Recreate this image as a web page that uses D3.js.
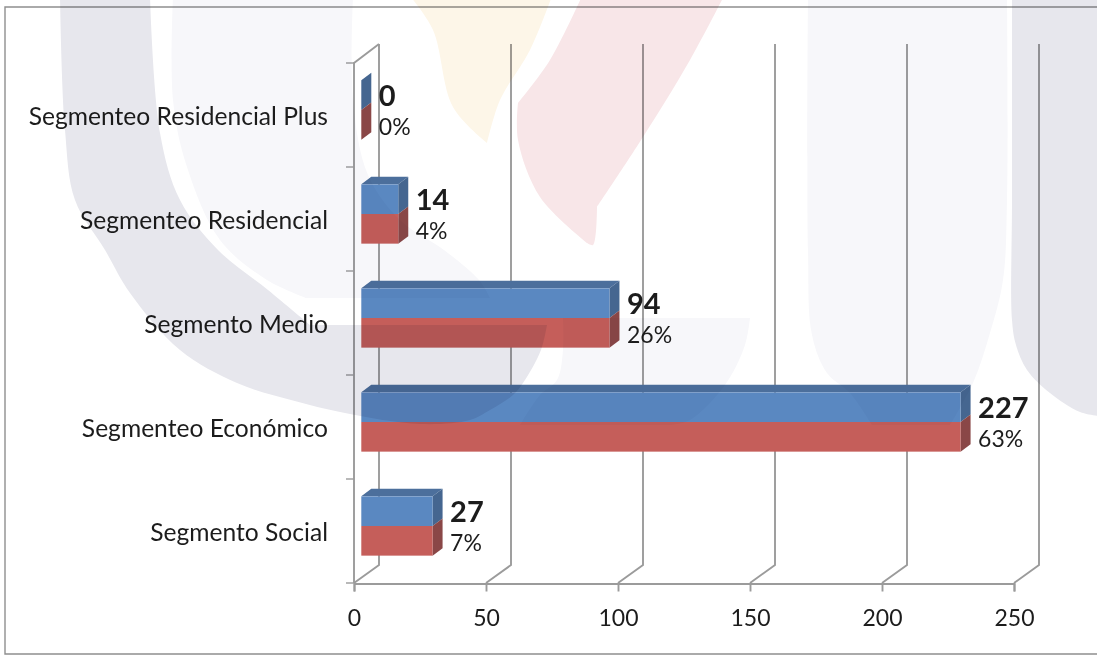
<!DOCTYPE html>
<html>
<head>
<meta charset="utf-8">
<script src="https://cdn.jsdelivr.net/npm/d3@7/dist/d3.min.js"></script>
<style>
  html, body { margin: 0; padding: 0; background: #fff; }
  svg { display: block; }
  text { font-family: Lato, "Open Sans", sans-serif; fill: #1c1c1c; }
</style>
</head>
<body>
<svg id="chart" width="1097" height="655"></svg>
<script>
// Chart data, listed from the bottom row up
const categories = ["Segmento Social", "Segmenteo Económico", "Segmento Medio", "Segmenteo Residencial", "Segmenteo Residencial Plus"];
const counts = [27, 227, 94, 14, 0];
const shares = ["7%", "63%", "26%", "4%", "0%"];
const xTicks = [0, 50, 100, 150, 200, 250];

const svg = d3.select("#chart");
const plot = { left: 354, right: 1014, top: 63, bottom: 583 };
const wall = { dx: 25, dy: -19, backTop: 44 };     // back wall offset of the 3D box
const depth = { dx: 10, dy: -7.5, inset: 7.3 };    // bar extrusion
const colors = {
  blue: "#5a88c1", blueTop: "#4c6f9c", blueSide: "#456690",
  red: "#c55e5a", redSide: "#8a4747", grid: "#9b9b9b", frame: "#8f8f8f"
};

const x = d3.scaleLinear().domain([0, 250]).range([plot.left, plot.right]);
const y = d3.scaleBand().domain(categories).range([plot.bottom, plot.top]);
const barHeight = y.bandwidth() * 0.57;
const line = d3.line();

// Outer frame, open on the right
svg.append("path")
  .attr("d", line([[1100, 7], [5, 7], [5, 654], [1100, 654]]))
  .attr("fill", "none").attr("stroke", colors.frame).attr("stroke-width", 1.4);

// Slanted gridlines and the back wall
const gridG = svg.append("g").attr("fill", "none").attr("stroke", colors.grid).attr("stroke-width", 1.9);
xTicks.forEach(t => {
  gridG.append("path").attr("d", line([
    [x(t), plot.bottom],
    [x(t) + wall.dx, plot.bottom + wall.dy + 1],
    [x(t) + wall.dx, wall.backTop]
  ]));
});
gridG.append("path").attr("d", line([
  [plot.left, plot.bottom], [plot.left, plot.top], [plot.left + wall.dx, wall.backTop]
]));

// Axes
const xAxis = d3.axisBottom(x).tickValues(xTicks).tickSize(8).tickPadding(18).tickFormat(d3.format("d"));
const gx = svg.append("g").attr("transform", `translate(0,${plot.bottom + 0.5})`).call(xAxis);
gx.selectAll("path, line").attr("stroke", colors.grid).attr("stroke-width", 1.9);
gx.selectAll("text").attr("font-size", 23).attr("font-family", "Lato").attr("fill", "#1c1c1c");

const yAxis = d3.axisLeft(y).tickSize(0).tickPadding(26);
const gy = svg.append("g").attr("transform", `translate(${plot.left},0)`).call(yAxis);
gy.select("path").remove();
gy.selectAll("text").attr("font-size", 24.6).attr("font-family", "Lato").attr("fill", "#1c1c1c").attr("dy", 10);

// Category separators on the left wall
svg.append("g").selectAll("line")
  .data(d3.range(categories.length + 1))
  .join("line")
  .attr("x1", plot.left - 8).attr("x2", plot.left)
  .attr("y1", i => plot.bottom - i * y.bandwidth())
  .attr("y2", i => plot.bottom - i * y.bandwidth())
  .attr("stroke", colors.grid).attr("stroke-width", 1.4);

// Bars: a front face in two tones plus extruded top and side
const rows = categories.map((c, i) => ({ c, v: counts[i], s: shares[i] }));
const poly = pts => line(pts) + "Z";
const bar = svg.append("g").selectAll("g").data(rows).join("g");
const x0 = x(0) + depth.inset;
const xEnd = d => x(d.v) + depth.inset;
const mid = d => y(d.c) + y.bandwidth() / 2 - 5;
const yTop = d => mid(d) - barHeight / 2;
const yBot = d => mid(d) + barHeight / 2;

bar.append("path").attr("fill", colors.blueTop).attr("d", d => poly([
  [x0, yTop(d)], [x0 + depth.dx, yTop(d) + depth.dy],
  [xEnd(d) + depth.dx, yTop(d) + depth.dy], [xEnd(d), yTop(d)]
]));
bar.append("path").attr("fill", colors.blueSide).attr("d", d => poly([
  [xEnd(d), yTop(d)], [xEnd(d) + depth.dx, yTop(d) + depth.dy],
  [xEnd(d) + depth.dx, mid(d) + depth.dy], [xEnd(d), mid(d)]
]));
bar.append("path").attr("fill", colors.redSide).attr("d", d => poly([
  [xEnd(d), mid(d)], [xEnd(d) + depth.dx, mid(d) + depth.dy],
  [xEnd(d) + depth.dx, yBot(d) + depth.dy], [xEnd(d), yBot(d)]
]));
bar.append("rect").attr("fill", colors.blue)
  .attr("x", x0).attr("y", yTop).attr("width", d => xEnd(d) - x0).attr("height", barHeight / 2);
bar.append("rect").attr("fill", colors.red)
  .attr("x", x0).attr("y", mid).attr("width", d => xEnd(d) - x0).attr("height", barHeight / 2);

// Value and share labels
bar.append("text").text(d => d.v)
  .attr("x", d => xEnd(d) + 17.5).attr("y", d => mid(d) - 4)
  .attr("font-size", 29).attr("font-weight", 700);
bar.append("text").text(d => d.s)
  .attr("x", d => xEnd(d) + 17.5).attr("y", d => mid(d) + 25)
  .attr("font-size", 23);

// Institutional emblem washed over the whole sheet.
// Each shape is a list of smooth edges joined at sharp corners.
const emblem = svg.append("g").style("mix-blend-mode", "multiply");
const edge = d3.line().curve(d3.curveCatmullRom.alpha(0.5));
const outline = edges => edges.map((e, i) => {
  const p = edge(e);
  return i ? "L" + p.slice(1) : p;
}).join("") + "Z";
const faintGrey = "#f7f7fa", grey = "#e7e7ed";
const shapes = [
  { fill: faintGrey, edges: [
    [[173,-4],[173,100],[187,167],[220,240],[267,280],[306,298]],
    [[306,298],[490,298]],
    [[490,298],[479,280],[444,250],[400,220],[368,175],[353,100],[353,-4]] ] },
  { fill: faintGrey, edges: [
    [[563,318],[750,318]],
    [[750,318],[745,345],[725,385],[690,420],[670,425]],
    [[670,425],[520,425]],
    [[520,425],[540,395],[557,380],[563,350],[563,318]] ] },
  { fill: grey, edges: [
    [[60,-4],[65,130],[75,200],[105,250],[130,293],[180,350],[237,383],[291,400],[345,413],[420,424],[470,420],[490,410],[513,395],[523,383],[541,350],[547,325]],
    [[547,325],[310,325]],
    [[310,325],[268,290],[218,250],[180,200],[160,133],[150,-4]] ] },
  { fill: "#fdf6e8", edges: [
    [[410,-4],[433,30],[453,107],[487,143]],
    [[487,143],[500,100],[530,50],[552,-4]] ] },
  { fill: "#f8e6e8", edges: [
    [[582,-4],[550,60],[518,103]],
    [[518,103],[518,140],[540,197],[587,243]],
    [[587,243],[593,245],[597,207]],
    [[597,207],[643,137],[690,60],[724,-4]] ] },
  { fill: faintGrey, edges: [
    [[808,-4],[808,250],[812,335],[827,373],[850,393],[872,425]],
    [[872,425],[950,425]],
    [[950,425],[973,383],[990,333],[1003,280],[1007,200],[1007,-4]] ] },
  { fill: grey, edges: [
    [[1012,-4],[1012,200],[1012,320],[1016,345],[1027,370],[1050,393],[1080,412],[1100,416]],
    [[1100,416],[1100,-4]] ] }
];
emblem.selectAll("path").data(shapes).join("path")
  .attr("fill", d => d.fill)
  .attr("d", d => outline(d.edges));
</script>
</body>
</html>
